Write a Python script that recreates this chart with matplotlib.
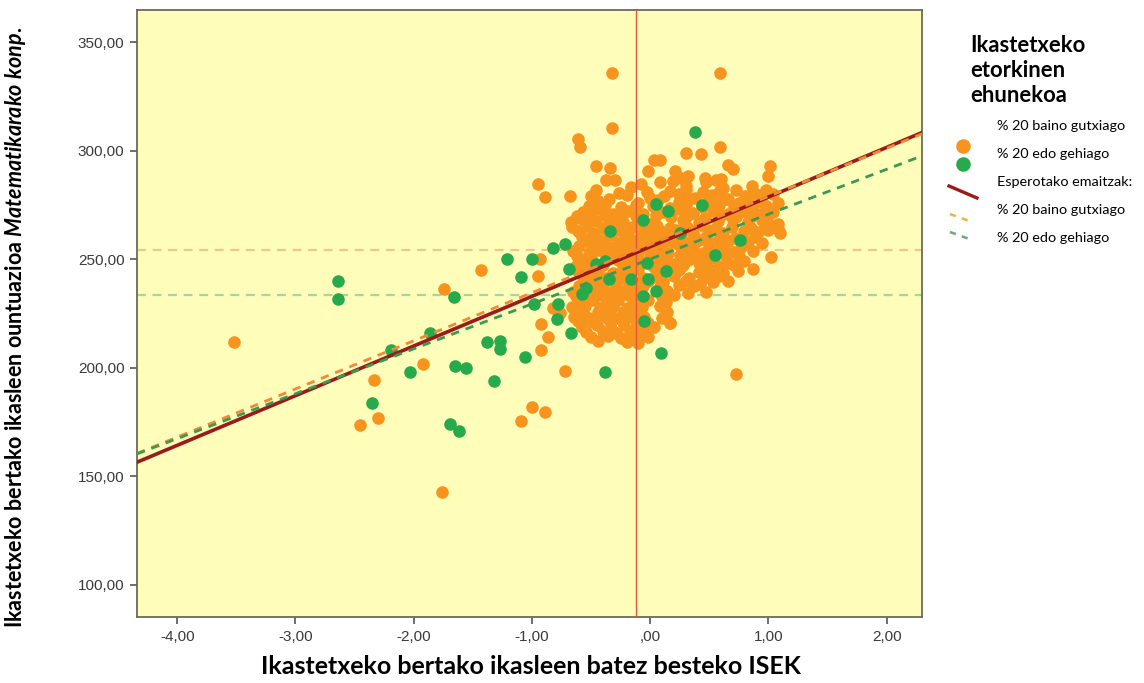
import matplotlib
matplotlib.use("Agg")
import matplotlib.pyplot as plt
from matplotlib.lines import Line2D
from matplotlib.ticker import FuncFormatter

# --- data (ISEK mean vs. school maths score) ---
orange_x = [
    # sparse / outlying schools
    -3.52, -1.74, -1.43, -1.92, -2.34, -2.30, -2.45, -1.76, -1.09, -1.00, -0.89, 0.73, -0.72,
    -0.93, -0.95, -0.92, -0.86, -0.92, -0.76, -0.82,
    -0.32, 0.59, -0.32, -0.61, -0.59, 0.59, 0.30, 0.43,
    -0.95, -0.89, -0.68, -0.46, -0.34, -0.37, -0.30, -0.46, -0.26, -0.16, -0.08,
    0.03, 0.08, -0.02, 0.21, 0.26, 0.32, 0.66, 0.70, 1.01, 1.00, 0.46, 0.60,
    1.02, 0.87, 0.59, 0.17, 1.02, 1.08,
    # dense core, top to bottom
    0.08, 0.19, 0.30, 0.47, 0.56, 0.62, 0.86, -0.03, 0.17, 0.30, 0.45, 0.59, 0.73, 0.87, 0.98, 1.04,
    -0.44, -0.10, 0.07, 0.24, 0.32, 0.49, 0.62, 0.75, 0.83, 0.95, 1.08,
    -0.57, -0.44, -0.31, -0.19, -0.06, 0.11, 0.24, 0.36, 0.53, 0.66, 0.79, 0.91, 1.04,
    -0.67, -0.58, -0.46, -0.35, -0.23, -0.10, 0.03, 0.28, 0.41, 0.57, 0.70, 0.83, 0.95, 1.08,
    -0.61, -0.48, -0.27, -0.19, -0.02, 0.11, 0.22, 0.36, 0.49, 0.62, 0.79, 0.91, 1.00, 1.10,
    -0.52, -0.40, -0.27, -0.14, -0.02, 0.07, 0.19, 0.32, 0.41, 0.53, 0.66, 0.83, 0.95,
    -0.65, -0.52, -0.44, -0.31, -0.23, -0.10, 0.03, 0.15, 0.32, 0.45, 0.57, 0.70, 0.87,
    -0.57, -0.48, -0.27, -0.19, -0.10, 0.07, 0.19, 0.32, 0.41, 0.49, 0.66, 0.79,
    -0.61, -0.44, -0.31, -0.19, -0.10, 0.07, 0.24, 0.41, 0.51, 0.62, 0.74,
    -0.52, -0.44, -0.27, -0.14, -0.02, 0.11, 0.30, 0.42, 0.53, 0.66,
    -0.65, -0.46, -0.35, -0.23, -0.10, 0.14, 0.32, 0.47,
    -0.61, -0.48, -0.37, -0.27, -0.14, -0.02, 0.13,
    -0.57, -0.44, -0.34, -0.23, -0.10, 0.14,
    -0.61, -0.48, -0.35, -0.23, -0.12, -0.02, 0.17,
    -0.54, -0.40, -0.29, -0.17, -0.06,
    -0.44, -0.20, -0.10,
    # in-between rows of the core
    -0.50, -0.35, -0.20, 0.00, 0.12, 0.24, 0.38, 0.52, 0.66, 0.80, 0.92,
    -0.52, -0.38, -0.25, -0.12, 0.02, 0.17, 0.30, 0.44, 0.58, 0.71, 0.86, 0.98,
    -0.62, -0.50, -0.38, -0.25, -0.12, 0.05, 0.18, 0.31, 0.46, 0.60, 0.73, 0.86, 0.98,
    -0.66, -0.54, -0.40, -0.30, -0.15, -0.05, 0.06, 0.17, 0.31, 0.43, 0.56, 0.69, 0.85, 0.97,
    -0.58, -0.46, -0.33, -0.21, -0.08, 0.03, 0.14, 0.26, 0.38, 0.47, 0.59, 0.72, 0.89,
    -0.60, -0.47, -0.35, -0.18, -0.06, 0.10, 0.24, 0.36, 0.50, 0.62, 0.77,
    -0.62, -0.50, -0.37, -0.25, -0.14, 0.00, 0.11, 0.25, 0.38, 0.52, 0.63, 0.75,
    -0.63, -0.53, -0.40, -0.23, -0.14, 0.02, 0.15, 0.28, 0.45, 0.58, 0.71,
    -0.57, -0.48, -0.37, -0.23, -0.06, 0.03, 0.20, 0.33, 0.47, 0.58,
    -0.60, -0.50, -0.40, -0.29, -0.18, -0.06, 0.08, 0.24, 0.37,
    -0.63, -0.52, -0.41, -0.30, -0.19, -0.06, 0.10, 0.20,
    -0.66, -0.55, -0.42, -0.31, -0.20, -0.07, 0.08,
    -0.64, -0.52, -0.39, -0.28, -0.16, -0.05, 0.10,
    -0.58, -0.45, -0.33, -0.22, -0.10, 0.03,
    -0.50, -0.36, -0.25, -0.14, -0.02,
]
orange_y = [
    211.8, 236.2, 245.0, 201.6, 194.2, 176.7, 173.5, 142.6, 175.3, 181.8, 179.5, 197.0, 198.4,
    250.0, 242.2, 220.0, 214.0, 208.1, 225.0, 227.5,
    335.7, 335.7, 310.4, 305.5, 301.6, 302.0, 298.8, 298.4,
    284.6, 278.6, 279.0, 292.9, 291.9, 286.4, 286.4, 281.8, 280.4, 283.2, 284.6,
    295.6, 295.6, 290.6, 290.6, 287.3, 288.2, 293.3, 291.5, 292.9, 288.2, 287.3, 286.9,
    251.0, 245.4, 243.0, 220.5, 266.0, 263.8,
    285.5, 286.0, 284.0, 285.5, 286.5, 283.0, 284.0, 281.0, 281.5, 282.0, 281.0, 282.0, 281.8, 281.0, 282.0, 280.0,
    277.0, 276.0, 277.5, 276.5, 277.5, 276.5, 277.5, 276.0, 277.5, 276.5, 276.0,
    272.0, 273.0, 271.0, 272.5, 271.0, 272.0, 273.0, 271.5, 272.5, 271.0, 272.5, 271.0, 272.0,
    267.0, 268.5, 267.5, 268.0, 267.0, 268.0, 267.0, 268.0, 267.0, 267.5, 268.5, 267.0, 268.0, 266.5,
    263.0, 262.0, 263.5, 262.0, 263.0, 262.5, 263.5, 262.0, 263.5, 262.0, 263.0, 262.5, 263.5, 262.0,
    258.0, 259.0, 257.5, 258.5, 257.5, 259.0, 258.0, 257.5, 259.0, 257.5, 258.5, 258.0, 257.5,
    254.0, 253.0, 254.5, 253.0, 254.5, 253.5, 254.0, 253.0, 254.5, 253.0, 254.0, 253.5, 254.0,
    249.0, 248.0, 249.5, 248.5, 250.0, 249.0, 248.0, 249.5, 248.5, 249.5, 248.5, 249.0,
    244.5, 245.0, 243.5, 244.5, 245.5, 244.0, 245.0, 244.0, 245.0, 243.5, 244.5,
    240.0, 239.0, 240.5, 239.0, 240.0, 239.5, 240.0, 238.5, 239.5, 240.0,
    235.0, 235.5, 234.5, 235.5, 234.5, 235.5, 234.5, 235.0,
    230.5, 231.0, 230.0, 231.0, 230.0, 231.0, 230.5,
    226.0, 225.5, 226.5, 225.5, 226.5, 225.5,
    221.5, 221.0, 222.0, 221.0, 221.5, 220.5, 220.5,
    216.5, 217.0, 216.0, 217.0, 216.5,
    212.5, 212.0, 211.5,
    279.0, 278.0, 279.5, 278.5, 279.0, 280.0, 278.5, 279.5, 278.0, 279.0, 279.5,
    274.5, 275.0, 274.0, 275.0, 274.5, 273.5, 275.0, 274.0, 275.0, 274.5, 273.5, 274.5,
    270.0, 269.5, 270.5, 269.5, 270.0, 270.5, 269.5, 270.0, 269.0, 270.5, 269.5, 270.0, 269.0,
    265.0, 265.5, 264.5, 265.5, 265.0, 264.0, 265.5, 264.5, 265.0, 266.0, 264.5, 265.0, 264.5, 265.5,
    260.5, 260.0, 261.0, 260.0, 261.0, 260.5, 259.5, 261.0, 260.0, 260.5, 261.0, 260.0, 260.5,
    256.0, 256.5, 255.5, 256.5, 255.5, 256.0, 256.5, 255.5, 256.0, 256.5, 255.5,
    251.5, 251.0, 252.0, 251.0, 252.0, 251.5, 251.0, 252.0, 251.5, 251.0, 252.0, 251.5,
    247.0, 246.5, 247.5, 246.5, 247.5, 247.0, 246.5, 247.5, 246.5, 247.0, 247.5,
    242.0, 242.5, 241.5, 242.5, 241.5, 242.0, 242.5, 241.5, 242.0, 242.5,
    237.5, 237.0, 238.0, 237.0, 238.0, 237.5, 237.0, 238.0, 237.5,
    233.0, 232.5, 233.5, 232.5, 233.5, 233.0, 232.5, 233.5,
    228.0, 228.5, 227.5, 228.5, 227.5, 228.0, 228.5,
    223.5, 223.0, 224.0, 223.0, 224.0, 223.5, 223.0,
    219.0, 219.5, 218.5, 219.5, 218.5, 219.0,
    214.0, 214.5, 213.5, 214.5, 214.0,
]

green_x = [
    -2.64, -2.64, -1.66, -2.19, -2.03, -1.86, -2.35, -1.69, -1.62, -1.65, -1.56,
    -1.38, -1.27, -1.27, -1.32, -1.06, -1.21, -1.00, -1.09, -0.98,
    -0.82, -0.72, -0.69, -0.46, -0.38, -0.35, -0.54, -0.58, -0.78, -0.79, -0.67,
    -0.06, -0.05, 0.05, -0.16, -0.03, -0.02, 0.13, 0.55, 0.76,
    -0.34, -0.06, 0.05, 0.15, 0.44, 0.38, 0.25, -0.38, 0.09,
]
green_y = [
    239.9, 231.6, 232.5, 208.1, 197.9, 215.9, 183.6, 174.0, 170.7, 200.7, 199.8,
    211.8, 212.2, 208.5, 193.8, 204.8, 250.0, 250.0, 241.7, 229.3,
    255.1, 256.9, 245.4, 247.7, 249.1, 240.8, 236.6, 233.9, 229.3, 222.4, 215.9,
    233.0, 221.4, 235.3, 240.8, 248.2, 240.8, 244.5, 251.8, 258.8,
    262.9, 268.0, 275.3, 272.1, 274.9, 308.5, 262.0, 198.0, 206.7,
]

# fit lines / reference lines (intercept, slope) and means
fit_all = (255.8, 22.9)
fit_low = (256.8, 22.2)
fit_high = (250.1, 20.7)
mean_low = 254.5
mean_high = 233.7
isek_mean = -0.12

x_ticks = [-4, -3, -2, -1, 0, 1, 2]
y_ticks = [100, 150, 200, 250, 300, 350]

ORANGE = "#F7941E"
GREEN = "#27AA4B"
DARKRED = "#9B1B1B"

plt.rcParams["mathtext.fontset"] = "custom"
plt.rcParams["mathtext.rm"] = "Lato:bold"
plt.rcParams["mathtext.it"] = "Lato:italic:bold"
plt.rcParams["mathtext.bf"] = "Lato:bold"

fig = plt.figure(figsize=(11.44, 6.83), dpi=100)
ax = fig.add_axes([0.1198, 0.0966, 0.6862, 0.8888])
ax.set_facecolor("#FFFDBA")

xlim = (-4.34, 2.30)
ylim = (85, 365)

ax.scatter(orange_x, orange_y, s=82, color=ORANGE, linewidths=0, zorder=3)
ax.scatter(green_x, green_y, s=82, color=GREEN, linewidths=0, zorder=4)

ax.axhline(mean_low, color="#E9C98F", lw=1.6, ls=(0, (4, 3)), zorder=2)
ax.axhline(mean_high, color="#A8D4A0", lw=1.6, ls=(0, (4, 3)), zorder=2)
ax.axvline(isek_mean, color="#E05A3A", lw=1.0, zorder=5)

xs = list(xlim)
ax.plot(xs, [fit_all[0] + fit_all[1] * v for v in xs], color=DARKRED, lw=2.6, zorder=6)
ax.plot(xs, [fit_low[0] + fit_low[1] * v for v in xs], color="#F08A3A", lw=2.0,
        ls=(0, (3, 2.5)), zorder=7)
ax.plot(xs, [fit_high[0] + fit_high[1] * v for v in xs], color="#3A9A50", lw=2.0,
        ls=(0, (3, 2.5)), zorder=7)

ax.set_xlim(*xlim)
ax.set_ylim(*ylim)
ax.set_xticks(x_ticks)
ax.set_yticks(y_ticks)


def comma_fmt(v, _pos):
    s = f"{v:.2f}".replace(".", ",")
    if s.startswith("0,"):
        s = s[1:]
    return s


ax.xaxis.set_major_formatter(FuncFormatter(comma_fmt))
ax.yaxis.set_major_formatter(FuncFormatter(comma_fmt))
ax.tick_params(direction="out", length=5, width=1.2, color="#555555",
               labelsize=11, labelcolor="#3a3a3a", pad=4)
for lab in ax.get_xticklabels() + ax.get_yticklabels():
    lab.set_family("Liberation Sans")
for sp in ax.spines.values():
    sp.set_color("#6b6b5a")
    sp.set_linewidth(1.3)

fig.text(0.464, 0.024, "Ikastetxeko bertako ikasleen batez besteko ISEK",
         family="Lato", weight="bold", fontsize=18, ha="center", va="center")
fig.text(0.0135, 0.521,
         r"Ikastetxeko bertako ikasleen ountuazioa $\mathit{Matematikarako\ konp.}$",
         family="Lato", weight="bold", fontsize=15.5, rotation=90,
         ha="center", va="center")

# legend, drawn by hand to keep the SPSS-like layout
W, H = 1144.0, 683.0


def fx(px):
    return px / W


def fy(py):
    return 1 - py / H


for i, line in enumerate(["Ikastetxeko", "etorkinen", "ehunekoa"]):
    fig.text(fx(970), fy(45 + 25.5 * i), line, family="Lato", weight="bold",
             fontsize=15.8, ha="left", va="center")

items = ["% 20 baino gutxiago", "% 20 edo gehiago", "Esperotako emaitzak:",
         "% 20 baino gutxiago", "% 20 edo gehiago"]
for i, txt in enumerate(items):
    fig.text(fx(997), fy(126 + 28 * i), txt, family="Lato", fontsize=10.4,
             ha="left", va="center")

fig.add_artist(Line2D([fx(963)], [fy(146)], marker="o", ms=10.5, color=ORANGE,
                      mew=0, transform=fig.transFigure))
fig.add_artist(Line2D([fx(963)], [fy(164)], marker="o", ms=10.5, color=GREEN,
                      mew=0, transform=fig.transFigure))
fig.add_artist(Line2D([fx(949), fx(977)], [fy(186), fy(198)], color=DARKRED, lw=2.4,
                      transform=fig.transFigure))
fig.add_artist(Line2D([fx(950), fx(972)], [fy(214), fy(222)], color="#F0B050", lw=1.8,
                      ls=(0, (2.5, 2.5)), transform=fig.transFigure))
fig.add_artist(Line2D([fx(950), fx(972)], [fy(232), fy(240)], color="#6AAA80", lw=1.8,
                      ls=(0, (2.5, 2.5)), transform=fig.transFigure))

fig.savefig("out.png", dpi=100)
